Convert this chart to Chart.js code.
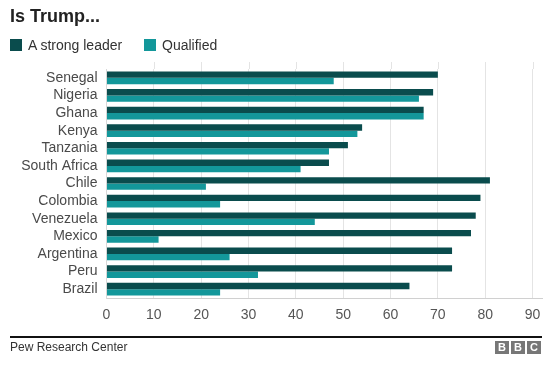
<!DOCTYPE html>
<html>
<head>
<meta charset="utf-8">
<script src="https://cdn.jsdelivr.net/npm/chart.js@4/dist/chart.umd.min.js"></script>
<style>
  html, body { margin: 0; padding: 0; background: #fff; }
  body { width: 552px; height: 377px; position: relative; overflow: hidden; font-family: "Liberation Sans", Arial, Helvetica, sans-serif; color: #222; }
  #title { position: absolute; left: 10px; top: 6px; font-size: 18px; font-weight: bold; color: #222; }
  #legend { position: absolute; left: 10px; top: 37px; font-size: 14px; color: #333; }
  .li { position: absolute; top: 0; white-space: nowrap; }
  .sw { position: absolute; top: 2px; width: 12px; height: 12px; }
  .lt { position: absolute; top: 0; left: 18px; }
  #wrap { position: absolute; left: 0; top: 0; width: 552px; height: 377px; }
  #rule { position: absolute; left: 10px; top: 336px; width: 532px; height: 1.5px; background: #111; }
  #source { position: absolute; left: 10px; top: 340px; font-size: 12px; color: #333; }
  #bbc { position: absolute; left: 495px; top: 341px; height: 13px; }
  .bb { position: absolute; top: 0; width: 14px; height: 13px; background: #777; color: #fff; font-size: 11px; font-weight: bold; text-align: center; line-height: 13px; }
</style>
</head>
<body>
<div id="wrap"><canvas id="c" width="552" height="377"></canvas></div>
<div id="title">Is Trump...</div>
<div id="legend"></div>
<div id="rule"></div>
<div id="source">Pew Research Center</div>
<div id="bbc"><div class="bb" style="left:0">B</div><div class="bb" style="left:16px">B</div><div class="bb" style="left:32px">C</div></div>
<script>
const categories = ["Senegal","Nigeria","Ghana","Kenya","Tanzania","South Africa","Chile","Colombia","Venezuela","Mexico","Argentina","Peru","Brazil"];
const strongLeader = [70, 69, 67, 54, 51, 47, 81, 79, 78, 77, 73, 73, 64];
const qualified = [48, 66, 67, 53, 47, 41, 21, 24, 44, 11, 26, 32, 24];
const seriesNames = ["A strong leader", "Qualified"];
const xTicks = [0, 10, 20, 30, 40, 50, 60, 70, 80, 90];

const colors = ["#0a4c4d", "#13979a"];

// HTML legend
const legend = document.getElementById('legend');
const legendX = [0, 134];
seriesNames.forEach((n, i) => {
  const li = document.createElement('div');
  li.className = 'li';
  li.style.left = legendX[i] + 'px';
  li.innerHTML = '<div class="sw" style="background:' + colors[i] + '"></div><div class="lt">' + n + '</div>';
  legend.appendChild(li);
});

const font = "'Liberation Sans', Arial, Helvetica, sans-serif";

// extend vertical gridlines slightly above the plot area, as in the reference
const gridExtend = {
  id: 'gridExtend',
  beforeDatasetsDraw(chart) {
    const { ctx, chartArea, scales } = chart;
    ctx.save();
    ctx.strokeStyle = '#e4e4e4';
    ctx.lineWidth = 1;
    scales.x.ticks.forEach(t => {
      if (t.value === 0) return;
      const x = Math.round(scales.x.getPixelForValue(t.value)) + 0.5;
      ctx.beginPath();
      ctx.moveTo(x, chartArea.top - 7);
      ctx.lineTo(x, chartArea.top);
      ctx.stroke();
    });
    ctx.restore();
  }
};

new Chart(document.getElementById('c'), {
  type: 'bar',
  data: {
    labels: categories,
    datasets: [
      { label: seriesNames[0], data: strongLeader, backgroundColor: colors[0], categoryPercentage: 0.72, barPercentage: 1.0, borderWidth: 0 },
      { label: seriesNames[1], data: qualified, backgroundColor: colors[1], categoryPercentage: 0.72, barPercentage: 1.0, borderWidth: 0 }
    ]
  },
  plugins: [gridExtend],
  options: {
    indexAxis: 'y',
    responsive: false,
    animation: false,
    events: [],
    layout: { padding: { top: 69, right: 10, bottom: 51, left: 0 } },
    plugins: { legend: { display: false }, tooltip: { enabled: false }, title: { display: false } },
    scales: {
      x: {
        min: 0, max: 92,
        afterFit: s => { s.height = 28; },
        ticks: {
          stepSize: 10, includeBounds: false, color: '#555', padding: 9,
          font: { family: font, size: 14 },
          callback: v => xTicks.includes(v) ? String(v) : ''
        },
        grid: { color: '#e4e4e4', lineWidth: 1, drawTicks: false },
        border: { display: true, color: '#d0d0d0', width: 1 }
      },
      y: {
        afterFit: s => { s.width = 106.5; },
        ticks: { color: '#4a4a4a', padding: 9, autoSkip: false, font: { family: font, size: 14 } },
        grid: { display: false, drawTicks: false },
        border: { display: true, color: '#d8d8d8', width: 1 }
      }
    }
  }
});
</script>
</body>
</html>
